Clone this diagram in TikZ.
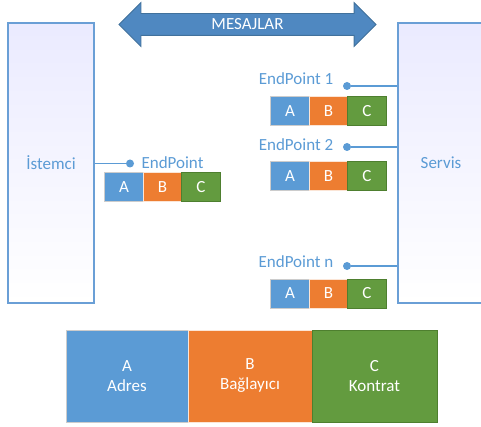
\documentclass[tikz,border=0pt]{standalone}
\usepackage{fontspec}
\setmainfont{Carlito}
\usepackage{tikz}
\usetikzlibrary{shapes.arrows}

\definecolor{epblue}{HTML}{5B9BD5}
\definecolor{boxline}{HTML}{6A9FD6}
\definecolor{arrowblue}{HTML}{4F88C1}
\definecolor{arrowedge}{HTML}{41719C}
\definecolor{adrA}{HTML}{5B9BD5}
\definecolor{bagB}{HTML}{ED7D31}
\definecolor{konC}{HTML}{639B3F}
\definecolor{konCedge}{HTML}{4E7F2F}

\tikzset{
  side/.style={draw=boxline, line width=1.5, top color=blue!8!white, bottom color=white,
    minimum width=86, minimum height=280, text=epblue, font=\fontsize{17}{20}\selectfont},
  cell/.style={minimum width=38.5, minimum height=29, inner sep=0, text=white,
    line width=1, font=\fontsize{17}{20}\selectfont},
  cellA/.style={cell, fill=adrA, draw=gray!40},
  cellB/.style={cell, fill=bagB, draw=white!80!bagB},
  cellC/.style={cell, fill=konC, draw=konCedge},
  big/.style={minimum height=92, inner sep=0, text=white, align=center,
    font=\fontsize{17}{21}\selectfont},
  eplabel/.style={text=epblue, font=\fontsize{17}{20}\selectfont},
  dot/.style={circle, fill=epblue, inner sep=0, minimum size=8},
  wire/.style={draw=epblue, line width=1.5}
}

\begin{document}
\begin{tikzpicture}[x=1pt, y=-1pt]
\useasboundingbox (0,0) rectangle (481,427);

\node (ist) at (51,163) [side] {İstemci};
\node (srv) at (441,163) [side] {Servis};

\node (msg) at (247.5,24.5) [double arrow, fill=arrowblue, draw=arrowedge, line width=0.8,
  minimum height=257, double arrow head extend=11, inner xsep=0, inner ysep=5,
  text height=11, text depth=0, text=white, font=\fontsize{17}{20}\selectfont] {MESAJLAR};

% client side
\node (ep0) at (130,163.5) [dot] {};
\node (ep0l) at (172.5,163) [eplabel] {EndPoint};
\node (a0) at (124,187.5) [cellA] {A};
\node (b0) at (162.5,187.5) [cellB] {B};
\node (c0) at (201,187.5) [cellC] {C};
\draw[wire] (ist.east |- ep0) -- (ep0);

% service side
\node (ep1) at (347,86) [dot] {};
\node (ep1l) at (296,79) [eplabel] {EndPoint 1};
\node (ep2) at (347,147) [dot] {};
\node (ep2l) at (296,145) [eplabel] {EndPoint 2};
\node (ep3) at (347,266) [dot] {};
\node (ep3l) at (296,262) [eplabel] {EndPoint n};

\node (a1) at (290,111.5) [cellA] {A};
\node (b1) at (328.5,111.5) [cellB] {B};
\node (c1) at (367,111.5) [cellC] {C};
\node (a2) at (290,176.5) [cellA] {A};
\node (b2) at (328.5,176.5) [cellB] {B};
\node (c2) at (367,176.5) [cellC] {C};
\node (a3) at (290,293.5) [cellA] {A};
\node (b3) at (328.5,293.5) [cellB] {B};
\node (c3) at (367,293.5) [cellC] {C};

\draw[wire] (ep1) -- (ep1 -| srv.west);
\draw[wire] (ep2) -- (ep2 -| srv.west);
\draw[wire] (ep3) -- (ep3 -| srv.west);

% legend
\node (adr) at (127,376) [big, cellA, minimum width=122, minimum height=92] {A\\Adres};
\node (bag) at (250,376) [big, cellB, minimum width=124, minimum height=92] {B\\Bağlayıcı};
\node (kon) at (374.5,376) [big, cellC, minimum width=125, minimum height=92] {C\\Kontrat};

\end{tikzpicture}
\end{document}
